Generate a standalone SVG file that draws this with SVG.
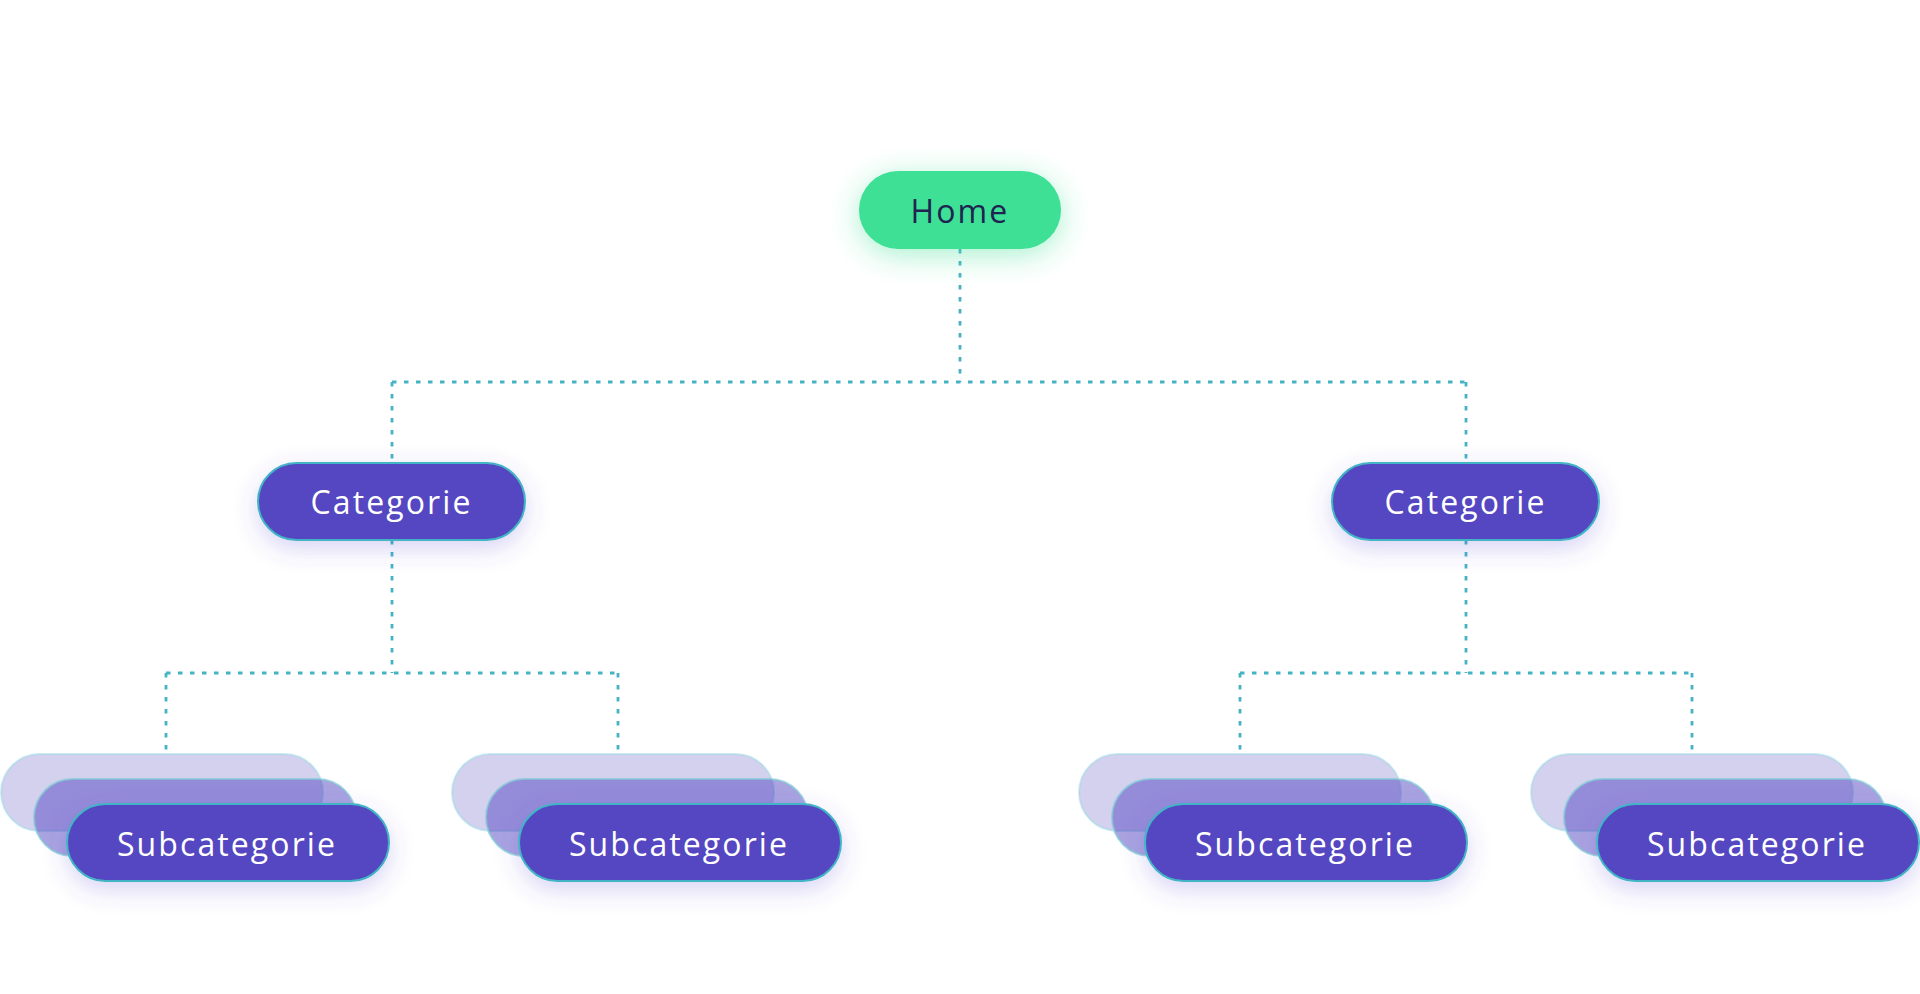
<svg xmlns="http://www.w3.org/2000/svg" width="1920" height="994" viewBox="0 0 1920 994">
<defs>
<filter id="glowGreen" x="-60%" y="-100%" width="220%" height="300%">
<feDropShadow dx="0" dy="6" stdDeviation="15" flood-color="#3ee094" flood-opacity="0.45"/>
</filter>
<filter id="glowPurple" x="-40%" y="-80%" width="180%" height="260%">
<feDropShadow dx="0" dy="8" stdDeviation="12" flood-color="#5a4bd0" flood-opacity="0.24"/>
</filter>
<style>
.conn{fill:none;stroke:#45b3c5;stroke-width:2.8;stroke-dasharray:4.5 7.5}
.pill{fill:#5447c1;stroke:#42b4c6;stroke-width:2}
.back{fill:#5447c1;fill-opacity:0.25;stroke:#8fd6e0;stroke-opacity:0.45;stroke-width:2}
.mid{fill:#5447c1;fill-opacity:0.5;stroke:#7fcbd6;stroke-opacity:0.7;stroke-width:2}
.lbl{font-family:"Open Sans","Noto Sans",sans-serif;font-size:32px;letter-spacing:2.1px;fill:#ffffff;text-anchor:middle}
.home{fill:#1f2352}
</style>
</defs>
<rect width="1920" height="994" fill="#ffffff"/>
<g id="connectors">
<path class="conn" d="M960 249V382M392 382H1466M392 382V463M1466 382V463"/>
<path class="conn" d="M392 540V673M166 673H618M166 673V753M618 673V753"/>
<path class="conn" d="M1466 540V673M1240 673H1692M1240 673V753M1692 673V753"/>
</g>
<g id="home">
<rect x="859" y="171" width="202" height="78" rx="39" fill="#3ee094" filter="url(#glowGreen)"/>
<text class="lbl home" x="960" y="223">Home</text>
</g>
<g id="cat-left">
<rect class="pill" x="258" y="463" width="267" height="77" rx="38.5" filter="url(#glowPurple)"/>
<text class="lbl" x="391.5" y="514">Categorie</text>
</g>
<g id="cat-right">
<rect class="pill" x="1332" y="463" width="267" height="77" rx="38.5" filter="url(#glowPurple)"/>
<text class="lbl" x="1465.5" y="514">Categorie</text>
</g>
<g id="sub-1">
<rect class="back" x="1" y="754" width="322" height="77" rx="38.5"/>
<rect class="mid" x="34" y="779" width="322" height="77" rx="38.5"/>
<rect class="pill" x="67" y="804" width="322" height="77" rx="38.5" filter="url(#glowPurple)"/>
<text class="lbl" x="227" y="856">Subcategorie</text>
</g>
<g id="sub-2">
<rect class="back" x="452" y="754" width="322" height="77" rx="38.5"/>
<rect class="mid" x="486" y="779" width="322" height="77" rx="38.5"/>
<rect class="pill" x="519" y="804" width="322" height="77" rx="38.5" filter="url(#glowPurple)"/>
<text class="lbl" x="679" y="856">Subcategorie</text>
</g>
<g id="sub-3">
<rect class="back" x="1079" y="754" width="322" height="77" rx="38.5"/>
<rect class="mid" x="1112" y="779" width="322" height="77" rx="38.5"/>
<rect class="pill" x="1145" y="804" width="322" height="77" rx="38.5" filter="url(#glowPurple)"/>
<text class="lbl" x="1305" y="856">Subcategorie</text>
</g>
<g id="sub-4">
<rect class="back" x="1531" y="754" width="322" height="77" rx="38.5"/>
<rect class="mid" x="1564" y="779" width="322" height="77" rx="38.5"/>
<rect class="pill" x="1597" y="804" width="322" height="77" rx="38.5" filter="url(#glowPurple)"/>
<text class="lbl" x="1757" y="856">Subcategorie</text>
</g>
</svg>
